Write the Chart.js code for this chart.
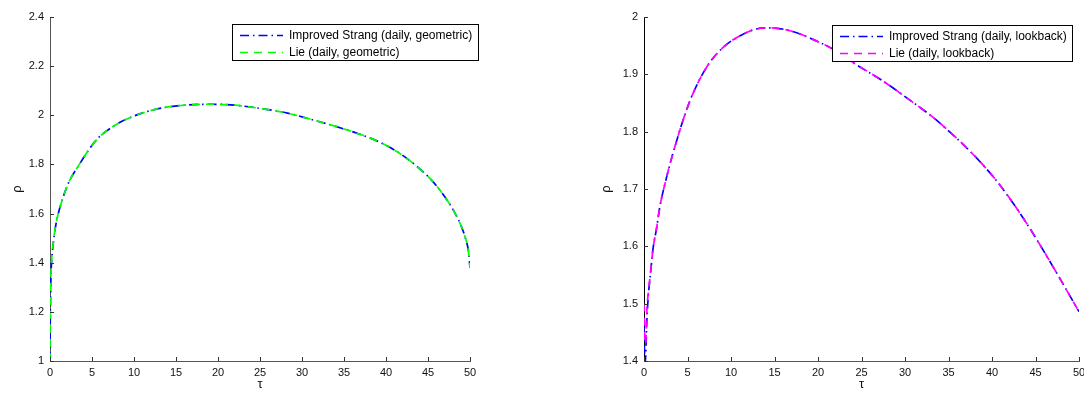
<!DOCTYPE html>
<html>
<head>
<meta charset="utf-8">
<script src="https://cdn.jsdelivr.net/npm/chart.js@4/dist/chart.umd.min.js"></script>
<style>
  html, body { margin: 0; padding: 0; background: #fff; }
  body { width: 1084px; height: 393px; position: relative; overflow: hidden; }
  .wrap { position: absolute; top: 0; }
  #w1 { left: 0; width: 540px; height: 393px; }
  #w2 { left: 560px; width: 524px; height: 393px; }
  canvas { display: block; }
</style>
</head>
<body>
<div class="wrap" id="w1"><canvas id="c1" width="540" height="393"></canvas></div>
<div class="wrap" id="w2"><canvas id="c2" width="524" height="393"></canvas></div>
<script>
// ---------- DATA ----------
const xTicks = [0, 5, 10, 15, 20, 25, 30, 35, 40, 45, 50];
const yTicksGeo = [1, 1.2, 1.4, 1.6, 1.8, 2, 2.2, 2.4];
const yTicksLook = [1.4, 1.5, 1.6, 1.7, 1.8, 1.9, 2];

const labelsGeo = ['Improved Strang (daily, geometric)', 'Lie (daily, geometric)'];
const labelsLook = ['Improved Strang (daily, lookback)', 'Lie (daily, lookback)'];

const tauGeo    = [0, 0.02, 0.05, 0.1, 0.15, 0.3, 0.5, 0.7, 0.95, 1.5, 2.2, 3.4, 5.4, 7.3, 9.7, 12.9, 16, 19.2, 22, 25.2, 28.4, 31.1, 33.9, 36.7, 39.1, 41.5, 43.5, 45.4, 47, 48.2, 49, 49.5, 49.8, 50];
const strangGeo = [1.00, 1.12, 1.22, 1.32, 1.38, 1.45, 1.51, 1.555, 1.595, 1.66, 1.725, 1.795, 1.895, 1.95, 1.993, 2.027, 2.041, 2.045, 2.041, 2.027, 2.008, 1.983, 1.956, 1.925, 1.893, 1.848, 1.797, 1.737, 1.668, 1.603, 1.545, 1.495, 1.45, 1.38];
const lieGeo    = [1.00, 1.13, 1.23, 1.33, 1.385, 1.455, 1.512, 1.556, 1.596, 1.66, 1.725, 1.795, 1.895, 1.95, 1.993, 2.027, 2.041, 2.045, 2.041, 2.027, 2.008, 1.983, 1.956, 1.925, 1.893, 1.848, 1.797, 1.737, 1.668, 1.603, 1.545, 1.495, 1.45, 1.38];

const tauLook    = [0, 0.05, 0.12, 0.2, 0.3, 0.5, 0.7, 1.04, 1.43, 1.8, 2.57, 3.73, 5.26, 7.18, 9.1, 11, 12.9, 14.5, 16.8, 19.4, 21.7, 24.4, 27.5, 30.2, 33.3, 35.9, 38.6, 40.9, 43.6, 45.5, 47.8, 50];
const strangLook = [1.46, 1.42, 1.395, 1.41, 1.46, 1.515, 1.545, 1.596, 1.63, 1.667, 1.719, 1.783, 1.853, 1.912, 1.947, 1.967, 1.979, 1.981, 1.976, 1.961, 1.944, 1.917, 1.888, 1.859, 1.824, 1.789, 1.748, 1.707, 1.649, 1.603, 1.544, 1.486];
const lieLook    = [1.50, 1.46, 1.43, 1.43, 1.48, 1.52, 1.547, 1.596, 1.63, 1.667, 1.719, 1.783, 1.853, 1.912, 1.947, 1.967, 1.979, 1.981, 1.976, 1.961, 1.944, 1.917, 1.888, 1.859, 1.824, 1.789, 1.748, 1.707, 1.649, 1.603, 1.544, 1.486];

// ---------- HELPERS ----------
const FONT = "'Liberation Sans', Arial, Helvetica, sans-serif";
Chart.defaults.font.family = FONT;
Chart.defaults.color = '#111';

function pts(xs, ys) { return xs.map((x, i) => ({ x: x, y: ys[i] })); }

// inward MATLAB-style tick marks
const inwardTicks = {
  id: 'inwardTicks',
  afterDraw(chart) {
    const ctx = chart.ctx, a = chart.chartArea;
    const xs = chart.scales.x, ys = chart.scales.y;
    ctx.save();
    ctx.lineWidth = 1;
    ctx.strokeStyle = '#333';
    ctx.beginPath();
    xs.ticks.forEach(t => {
      const px = Math.round(xs.getPixelForValue(t.value)) + 0.5;
      ctx.moveTo(px, a.bottom); ctx.lineTo(px, a.bottom - 4);
    });
    ys.ticks.forEach(t => {
      const py = Math.round(ys.getPixelForValue(t.value)) + 0.5;
      ctx.moveTo(a.left, py); ctx.lineTo(a.left + 4, py);
    });
    ctx.stroke();
    ctx.restore();
  }
};

// MATLAB-style boxed legend
const boxLegend = {
  id: 'boxLegend',
  afterDatasetsDraw(chart, args, opts) {
    const ctx = chart.ctx;
    const {x, y, w, h} = opts;
    ctx.save();
    ctx.fillStyle = '#fff';
    ctx.fillRect(x, y, w, h);
    ctx.strokeStyle = '#000';
    ctx.lineWidth = 1;
    ctx.strokeRect(x + 0.5, y + 0.5, w, h);
    ctx.font = '12px ' + FONT;
    ctx.textBaseline = 'middle';
    ctx.textAlign = 'left';
    chart.data.datasets.forEach((ds, i) => {
      const cy = Math.round(y + 11 + i * 16.5) + 0.5;
      ctx.strokeStyle = ds.borderColor;
      ctx.lineWidth = 1.6;
      ctx.setLineDash(ds.borderDash || []);
      ctx.beginPath();
      ctx.moveTo(x + 8, cy); ctx.lineTo(x + 51, cy);
      ctx.stroke();
      ctx.setLineDash([]);
      ctx.fillStyle = '#000';
      ctx.fillText(ds.label, x + 57, cy);
    });
    ctx.restore();
  }
};

function makeChart(canvasId, tau, s1, s2, labels, c2, yTicks, ymin, ymax, yAxisW, padRight, yTitlePad, legendBox, yBorderColor) {
  return new Chart(document.getElementById(canvasId), {
    type: 'line',
    data: {
      datasets: [
        { label: labels[0], data: pts(tau, s1), borderColor: '#0000ff', borderDash: [9, 4, 1.5, 4], borderWidth: 1.7, pointRadius: 0, fill: false, cubicInterpolationMode: 'monotone', order: 1 },
        { label: labels[1], data: pts(tau, s2), borderColor: c2, borderDash: [8, 6], borderWidth: 1.7, pointRadius: 0, fill: false, cubicInterpolationMode: 'monotone', order: 0 }
      ]
    },
    options: {
      responsive: false,
      animation: false,
      devicePixelRatio: 1,
      layout: { padding: { left: 0, right: padRight, top: 17, bottom: 0 } },
      plugins: {
        legend: { display: false },
        tooltip: { enabled: false },
        boxLegend: legendBox
      },
      scales: {
        x: {
          type: 'linear', min: 0, max: 50,
          grid: { display: false, drawTicks: false },
          border: { display: true, color: '#555', width: 1 },
          afterBuildTicks: s => { s.ticks = xTicks.map(v => ({ value: v })); },
          afterFit: s => { s.height = 32; s.paddingLeft = 0; s.paddingRight = 0; },
          ticks: { autoSkip: false, maxRotation: 0, padding: 5, font: { size: 11 }, color: '#111', callback: v => String(v) },
          title: { display: true, text: 'τ', font: { size: 13 }, color: '#111', padding: { top: 0, bottom: 1 } }
        },
        y: {
          type: 'linear', min: ymin, max: ymax,
          grid: { display: false, drawTicks: false },
          border: { display: true, color: yBorderColor, width: 1 },
          afterBuildTicks: s => { s.ticks = yTicks.map(v => ({ value: v })); },
          afterFit: s => { s.width = yAxisW; s.paddingTop = 0; s.paddingBottom = 0; },
          ticks: { autoSkip: false, padding: 6, font: { size: 11 }, color: '#111', callback: v => String(v) },
          title: { display: true, text: 'ρ', font: { size: 13 }, color: '#111', padding: { top: yTitlePad, bottom: 0 } }
        }
      }
    },
    plugins: [inwardTicks, boxLegend]
  });
}

makeChart('c1', tauGeo, strangGeo, lieGeo, labelsGeo, '#00ff00', yTicksGeo, 1, 2.4, 50, 70, 10,
  { x: 232, y: 24, w: 246, h: 36 }, '#555');
makeChart('c2', tauLook, strangLook, lieLook, labelsLook, '#ff00ff', yTicksLook, 1.4, 2, 84, 5, 39,
  { x: 272, y: 25, w: 240, h: 36 }, '#000');
</script>
</body>
</html>
